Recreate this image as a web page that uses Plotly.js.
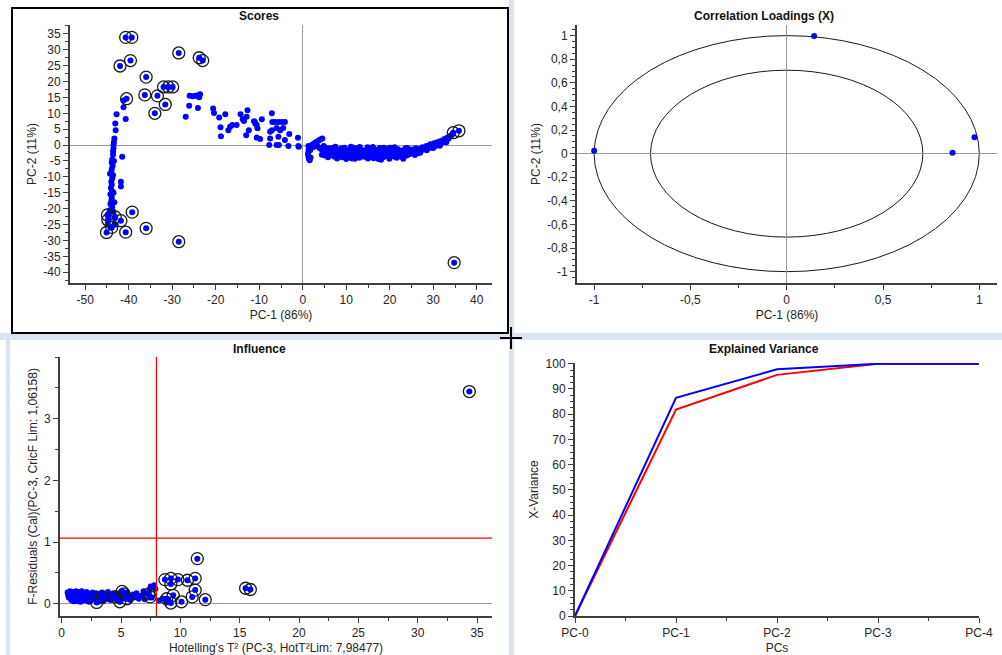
<!DOCTYPE html>
<html><head><meta charset="utf-8">
<script src="https://cdn.plot.ly/plotly-3.0.1.min.js"></script>
<style>html,body{margin:0;padding:0;background:#fff;}#chart{width:1002px;height:655px;}</style>
</head><body><div id="chart"></div>
<script>
// ---------- Scores (PC-1 vs PC-2) ----------
const scoresLeft = [[-41.2,14.0],[-41.2,11.9],[-42.8,9.7],[-40.7,8.2],[-43.1,6.8],[-43.0,4.7],[-43.3,2.1],[-43.4,1.0],[-43.5,0.0],[-43.5,-1.0],[-41.5,-3.7],[-43.6,-2.0],[-43.6,-3.0],[-43.8,-4.5],[-43.4,-5.0],[-43.9,-5.5],[-43.7,-6.5],[-43.9,-7.5],[-44.0,-8.5],[-44.3,-9.0],[-43.6,-9.5],[-43.8,-10.5],[-41.8,-11.5],[-41.8,-13.0],[-44.0,-11.5],[-43.9,-12.5],[-44.1,-13.5],[-43.8,-14.5],[-43.5,-15.0],[-44.2,-15.5],[-43.9,-16.5],[-44.0,-17.5],[-43.3,-18.0],[-44.2,-18.5],[-43.8,-19.5],[-44.3,-20.5],[-43.5,-21.0],[-44.6,-21.5],[-44.6,-22.5],[-43.2,-23.0],[-44.8,-24.5],[-43.0,-25.0],[-44.2,-26.0]];
const scoresMid = [[-26.0,15.5],[-25.3,15.4],[-24.6,15.5],[-24.0,15.7],[-23.6,16.0],[-23.8,15.1],[-26.1,12.4],[-24.1,11.7],[-26.9,8.9],[-20.6,11.5],[-20.4,10.1],[-19.2,8.7],[-17.8,9.7],[-18.9,5.6],[-18.8,2.8],[-17.1,4.7],[-16.7,5.8],[-16.2,6.3],[-15.2,6.3],[-14.3,9.7],[-13.8,8.1],[-12.7,11.0],[-12.9,8.9],[-13.5,7.6],[-12.4,4.7],[-13.0,3.1],[-11.0,7.3],[-10.6,6.3],[-10.4,5.3],[-9.4,8.1],[-10.6,2.4],[-9.8,1.9],[-7.1,10.0],[-7.0,7.3],[-6.4,7.3],[-5.6,7.3],[-4.8,7.3],[-4.1,7.3],[-7.1,4.7],[-7.5,4.2],[-6.0,5.4],[-5.2,4.7],[-4.5,5.4],[-7.5,2.1],[-5.6,2.6],[-4.1,1.6],[-3.1,3.5],[-1.1,2.3],[-7.7,0.0],[-6.0,0.0],[-5.5,0.0],[-3.3,-0.3],[-1.0,-0.3],[-0.9,-0.5],[-10.9,6.8],[-11.2,7.5]];
const scoresBand = [[1.3,-0.3],[1.4,-1.2],[1.3,-2.0],[1.2,-2.8],[1.3,-3.6],[1.4,-4.3],[1.6,-4.8],[1.8,-3.9],[1.7,-1.6],
[2.2,0.2],[2.7,0.6],[3.1,1.0],[3.6,1.4],[4.0,1.8],[4.5,2.1],[2.5,-0.6],[3.3,-0.2],
[4.2,-1.2],[4.6,-2.1],[5.0,-0.6],[5.3,-1.5],[5.6,-2.6],[5.9,-1.0],[6.2,-3.2],[6.4,-2.0],[6.7,-1.1],[7.0,-2.8],[7.2,-3.6],[7.5,-0.5],[7.7,-1.9],[8.0,-2.5],[8.3,-3.4],[8.6,-1.4],[8.8,-2.9],[9.1,-3.8],[9.4,-2.2],[9.6,-0.8],[9.9,-3.1],[10.2,-2.0],[10.5,-3.6],[10.7,-1.3],[11.0,-2.7],[11.3,-4.2],[11.6,-2.1],[11.9,-0.9],[12.1,-3.3],[12.4,-1.8],[12.7,-2.6],[13.0,-4.0],[13.3,-1.2],[13.5,-3.0],[13.8,-2.2],[14.1,-3.7],[14.4,-1.6],[14.6,-2.9],[14.9,-0.7],[15.2,-2.4],[15.5,-3.5],[15.7,-1.9],[16.0,-2.8],[16.3,-4.1],[16.6,-1.4],[16.9,-3.2],[17.1,-2.3],[17.4,-4.4],[17.7,-0.9],[17.9,-3.0],[18.2,-1.8],[18.5,-3.8],[18.8,-2.5],[19.0,-1.1],[19.3,-3.4],[19.6,-2.0],[19.9,-4.3],[20.1,-0.8],[20.4,-2.9],[20.7,-1.6],[21.0,-3.6],[21.3,-2.4],[21.6,-4.0],[21.9,-1.3],[22.1,-3.1],[22.4,-2.2],[22.7,-3.7],[23.0,-1.7],[23.3,-2.8],[23.6,-1.0],[23.9,-3.3],[24.2,-2.0],[24.5,-2.9],[24.8,-1.4],
[4.8,-0.3],[5.8,-3.8],[6.9,-0.9],[7.9,-4.2],[8.9,-1.0],[10.0,-4.4],[11.1,-0.5],[12.0,-4.3],[13.1,-0.6],[14.0,-2.8],[15.0,-4.2],[16.1,-0.6],[17.0,-1.8],[18.0,-4.6],[19.1,-2.9],[20.0,-3.7],[21.1,-0.7],[22.0,-2.6],[23.1,-4.3],[24.0,-0.9],[9.0,-2.5],[11.5,-3.0],[13.6,-2.0],[15.9,-3.7],[18.6,-0.8],[20.9,-2.4],[6.0,-1.7],[3.8,-0.8],[4.4,-3.0],[5.1,-3.3],
[25.1,-2.6],[25.4,-1.4],[25.7,-2.0],[26.0,-1.0],[26.3,-1.8],[26.6,-2.5],[26.9,-1.2],[27.2,-1.7],[27.5,-0.7],[27.8,-1.3],[28.1,-0.9],[28.4,-0.3],[28.7,-1.1],[29.0,-0.2],[29.3,0.3],[29.6,-0.8],[29.9,0.1],[30.2,0.6],[30.5,-0.3],[30.8,0.8],[31.1,0.3],[31.4,1.1],[31.7,0.6],[32.0,1.4],[32.3,1.0],[32.6,1.9],[32.9,1.5],[33.2,2.3],[33.5,2.0],[33.8,2.8],[34.1,3.0],[34.4,3.4],[25.8,-3.1],[27.0,-2.4],[28.5,-1.6],[30.0,-0.9],[31.5,-0.2],[33.0,0.9]];
const scoresMarked = [[-40.7,33.9],[-39.3,33.9],[-28.5,29.0],[-23.8,27.5],[-23.0,26.6],[-42.0,24.9],[-39.6,26.6],[-36.0,21.4],[-32.0,18.3],[-30.9,18.3],[-29.9,18.3],[-36.3,15.8],[-33.4,15.5],[-40.5,14.6],[-31.6,12.8],[-34.0,10.0],[-44.9,-22.0],[-44.8,-23.6],[-43.1,-22.6],[-41.8,-23.8],[-43.9,-25.9],[-45.1,-27.5],[-40.7,-27.4],[-39.2,-21.1],[-36.0,-26.2],[-28.5,-30.4],[34.8,-37.0],[34.6,3.9],[35.9,4.5]];
const scoresXTicks = [-50,-40,-30,-20,-10,0,10,20,30,40];
const scoresXText = ['-50','-40','-30','-20','-10','0','10','20','30','40'];
const scoresYTicks = [-40,-35,-30,-25,-20,-15,-10,-5,0,5,10,15,20,25,30,35];
const scoresYText = ['-40','-35','-30','-25','-20','-15','-10','-5','0','5','10','15','20','25','30','35'];

// ---------- Correlation loadings ----------
const loadX = [-1.0, 0.142, 0.861, 0.975];
const loadY = [0.025, 0.997, 0.008, 0.139];
const loadCircleRadii = [1, 0.7071];
const loadXTicks = [-1,-0.5,0,0.5,1];
const loadXText = ['-1','-0,5','0','0,5','1'];
const loadYTicks = [-1,-0.8,-0.6,-0.4,-0.2,0,0.2,0.4,0.6,0.8,1];
const loadYText = ['-1','-0,8','-0,6','-0,4','-0,2','0','0,2','0,4','0,6','0,8','1'];

// ---------- Influence ----------
const inflX = [0.5,0.6,0.7,0.8,0.8,0.9,1.0,1.0,1.1,1.2,1.2,1.3,1.4,1.4,1.5,1.6,1.7,1.7,1.8,1.9,2.0,2.0,2.1,2.2,2.3,2.4,2.5,2.6,2.7,2.8,2.9,3.0,3.1,3.2,3.3,3.4,3.5,3.6,3.7,3.8,3.9,4.0,4.1,4.2,4.3,4.4,4.6,4.7,4.8,5.0,5.2,5.3,5.5,5.6,5.8,6.0,6.1,6.3,6.5,6.7,6.9,7.0,7.2,7.4,7.5,7.6,7.8,7.9,8.2,8.5,8.8,9.0,1.1,1.5,2.2,0.9,1.3,1.9,2.6,3.3,4.0,0.7,1.6,2.4,0.6,0.8,1.0,1.2,1.4,1.6,1.8,2.1,2.3,2.7,3.1,3.5,0.55,0.75,0.95,1.15,1.35,1.55,1.75,1.95];
const inflY = [0.18,0.15,0.2,0.12,0.17,0.08,0.19,0.14,0.1,0.16,0.2,0.06,0.13,0.18,0.09,0.15,0.2,0.11,0.05,0.17,0.13,0.08,0.19,0.1,0.16,0.04,0.14,0.18,0.07,0.12,0.17,0.09,0.15,0.05,0.13,0.18,0.1,0.16,0.07,0.14,0.19,0.11,0.06,0.15,0.09,0.17,0.12,0.05,0.16,0.1,0.14,0.08,0.18,0.12,0.06,0.15,0.1,0.17,0.08,0.13,0.2,0.07,0.16,0.22,0.28,0.1,0.3,0.24,0.05,0.08,0.04,0.06,0.07,0.06,0.05,0.14,0.11,0.14,0.12,0.13,0.12,0.11,0.09,0.08,0.1,0.06,0.04,0.05,0.04,0.03,0.09,0.05,0.03,0.16,0.03,0.04,0.14,0.19,0.17,0.18,0.16,0.19,0.14,0.15];
const inflMarkedX = [34.35,11.43,15.5,15.9,8.7,9.2,9.8,10.6,11.25,9.2,9.4,11.25,11.0,8.85,9.2,10.1,12.1,7.45,7.35,2.95,3.4,4.5,4.9,5.1,5.25,5.5];
const inflMarkedY = [3.44,0.73,0.25,0.23,0.39,0.41,0.39,0.38,0.41,0.32,0.135,0.22,0.11,0.08,0.01,0.03,0.065,0.11,0.16,0.02,0.11,0.11,0.03,0.2,0.16,0.08];
const hotellingLimit = 7.98477;
const fResidualLimit = 1.06158;
const inflXTicks = [0,5,10,15,20,25,30,35];
const inflXText = ['0','5','10','15','20','25','30','35'];
const inflYTicks = [0,1,2,3];
const inflYText = ['0','1','2','3'];

// ---------- Explained variance ----------
const pcs = ['PC-0','PC-1','PC-2','PC-3','PC-4'];
const pcIndex = [0,1,2,3,4];
const calVariance = [0, 86.5, 97.8, 100, 100];
const valVariance = [0, 81.8, 95.6, 100, 100];
const varYTicks = [0,10,20,30,40,50,60,70,80,90,100];
const varYText = ['0','10','20','30','40','50','60','70','80','90','100'];

// ---------- helpers ----------
const W = 1002, H = 655;
const fx = p => p / W;
const fy = p => 1 - p / H;
const FONT = 'Liberation Sans, Arial, sans-serif';
const BLUE = '#0000ff';
const txt = '#262626';

function ax(extra) {
  return Object.assign({
    showline: true, linecolor: '#404040', linewidth: 2, mirror: false,
    ticks: 'outside', ticklen: 5, tickwidth: 1, tickcolor: '#404040',
    showgrid: false, zeroline: false, tickmode: 'array',
    tickfont: {family: FONT, size: 12, color: txt},
    title: {font: {family: FONT, size: 12, color: txt}}
  }, extra);
}
function minor(d) { return {tickmode: 'linear', tick0: 0, dtick: d, ticklen: 3, tickcolor: '#404040', tickwidth: 1, ticks: 'outside', showgrid: false}; }

const col = (arr, i) => arr.map(p => p[i]);
const scoresAll = scoresLeft.concat(scoresMid, scoresBand);

const traces = [
  {x: col(scoresAll,0), y: col(scoresAll,1), xaxis:'x', yaxis:'y', mode:'markers', type:'scatter',
   marker:{color:BLUE, size:6}, hoverinfo:'skip'},
  {x: col(scoresMarked,0), y: col(scoresMarked,1), xaxis:'x', yaxis:'y', mode:'markers', type:'scatter',
   marker:{symbol:'circle-open', color:'#1a1a1a', size:12, line:{width:1.3}}, hoverinfo:'skip'},
  {x: col(scoresMarked,0), y: col(scoresMarked,1), xaxis:'x', yaxis:'y', mode:'markers', type:'scatter',
   marker:{color:BLUE, size:6}, hoverinfo:'skip'},
  {x: loadX, y: loadY, xaxis:'x2', yaxis:'y2', mode:'markers', type:'scatter',
   marker:{color:BLUE, size:6}, hoverinfo:'skip'},
  {x: inflX, y: inflY, xaxis:'x3', yaxis:'y3', mode:'markers', type:'scatter',
   marker:{color:BLUE, size:6}, hoverinfo:'skip'},
  {x: inflMarkedX, y: inflMarkedY, xaxis:'x3', yaxis:'y3', mode:'markers', type:'scatter',
   marker:{symbol:'circle-open', color:'#1a1a1a', size:12, line:{width:1.3}}, hoverinfo:'skip'},
  {x: inflMarkedX, y: inflMarkedY, xaxis:'x3', yaxis:'y3', mode:'markers', type:'scatter',
   marker:{color:BLUE, size:6}, hoverinfo:'skip'},
  {x: pcIndex, y: valVariance, xaxis:'x4', yaxis:'y4', mode:'lines', type:'scatter',
   line:{color:'#ff0000', width:2}, hoverinfo:'skip'},
  {x: pcIndex, y: calVariance, xaxis:'x4', yaxis:'y4', mode:'lines', type:'scatter',
   line:{color:BLUE, width:2}, hoverinfo:'skip'}
];

const shapes = [
  // background gaps between panels
  {type:'rect', xref:'paper', yref:'paper', x0:fx(509), x1:fx(514), y0:fy(655), y1:fy(0), fillcolor:'#d9e4f0', line:{width:0}, layer:'below'},
  {type:'rect', xref:'paper', yref:'paper', x0:fx(0), x1:fx(1002), y0:fy(340), y1:fy(333), fillcolor:'#d9e4f0', line:{width:0}, layer:'below'},
  {type:'rect', xref:'paper', yref:'paper', x0:fx(6), x1:fx(10), y0:fy(655), y1:fy(340), fillcolor:'#d9e4f0', line:{width:0}, layer:'below'},
  // selected panel frame
  {type:'rect', xref:'paper', yref:'paper', x0:fx(12), x1:fx(508), y0:fy(333), y1:fy(8), line:{color:'#000', width:2}, fillcolor:'rgba(0,0,0,0)'},
  // cursor
  {type:'line', xref:'paper', yref:'paper', x0:fx(500), x1:fx(522), y0:fy(338), y1:fy(338), line:{color:'#000', width:2}},
  {type:'line', xref:'paper', yref:'paper', x0:fx(511), x1:fx(511), y0:fy(327), y1:fy(349), line:{color:'#000', width:2}},
  // influence limits
  {type:'line', xref:'x3', yref:'y3 domain', x0:hotellingLimit, x1:hotellingLimit, y0:0, y1:1, line:{color:'#ff0000', width:1.2}},
  {type:'line', xref:'x3 domain', yref:'y3', x0:0, x1:1, y0:fResidualLimit, y1:fResidualLimit, line:{color:'#ff0000', width:1.2}}
];
loadCircleRadii.forEach(r => shapes.push({type:'circle', xref:'x2', yref:'y2', x0:-r, x1:r, y0:-r, y1:r, line:{color:'#1a1a1a', width:1}, layer:'below'}));

function panelTitle(text, xp, yp) {
  return {text: text, xref:'paper', yref:'paper', x:fx(xp), y:fy(yp), xanchor:'center', yanchor:'middle', showarrow:false,
          font:{family:FONT, size:12, color:'#111', weight:'bold'}};
}

const layout = {
  width: W, height: H, margin:{l:0,r:0,t:0,b:0},
  paper_bgcolor:'#ffffff', plot_bgcolor:'rgba(0,0,0,0)', showlegend:false,
  font:{family:FONT, size:12, color:txt},
  xaxis: ax({domain:[fx(70), fx(492)], anchor:'y', range:[-53.5, 43.5], tickvals:scoresXTicks, ticktext:scoresXText,
    minor:minor(5), zeroline:true, zerolinecolor:'#999', zerolinewidth:1, title:{text:'PC-1 (86%)', font:{family:FONT,size:12,color:txt}, standoff:4}}),
  yaxis: ax({domain:[fy(283), fy(25)], anchor:'x', range:[-43.4, 37.8], tickvals:scoresYTicks, ticktext:scoresYText,
    minor:minor(2.5), zeroline:true, zerolinecolor:'#999', zerolinewidth:1, title:{text:'PC-2 (11%)', font:{family:FONT,size:12,color:txt}, standoff:4}}),
  xaxis2: ax({domain:[fx(577), fx(997)], anchor:'y2', range:[-1.089, 1.092], tickvals:loadXTicks, ticktext:loadXText,
    minor:minor(0.25), zeroline:true, zerolinecolor:'#999', zerolinewidth:1, title:{text:'PC-1 (86%)', font:{family:FONT,size:12,color:txt}, standoff:4}}),
  yaxis2: ax({domain:[fy(283), fy(25)], anchor:'x2', range:[-1.096, 1.09], tickvals:loadYTicks, ticktext:loadYText,
    minor:minor(0.05), zeroline:true, zerolinecolor:'#999', zerolinewidth:1, title:{text:'PC-2 (11%)', font:{family:FONT,size:12,color:txt}, standoff:4}}),
  xaxis3: ax({domain:[fx(60), fx(492)], anchor:'y3', range:[-0.14, 36.26], tickvals:inflXTicks, ticktext:inflXText,
    minor:minor(2.5), title:{text:"Hotelling's T² (PC-3, HotT²Lim: 7,98477)", font:{family:FONT,size:12,color:txt}, standoff:4}}),
  yaxis3: ax({domain:[fy(616), fy(357)], anchor:'x3', range:[-0.2, 4.0], tickvals:inflYTicks, ticktext:inflYText,
    minor:minor(0.5), zeroline:true, zerolinecolor:'#999', zerolinewidth:1, title:{text:'F-Residuals (Cal)(PC-3, CricF Lim: 1,06158)', font:{family:FONT,size:12,color:txt}, standoff:4}}),
  xaxis4: ax({domain:[fx(575), fx(979)], anchor:'y4', range:[0, 4], tickvals:pcIndex, ticktext:pcs,
    minor:minor(0.5), title:{text:'PCs', font:{family:FONT,size:12,color:txt}, standoff:4}}),
  yaxis4: ax({domain:[fy(616), fy(363)], anchor:'x4', range:[0, 100.3], tickvals:varYTicks, ticktext:varYText,
    minor:minor(2.5), title:{text:'X-Variance', font:{family:FONT,size:12,color:txt}, standoff:4}}),
  shapes: shapes,
  annotations: [
    panelTitle('Scores', 259, 16),
    panelTitle('Correlation Loadings (X)', 764, 16),
    panelTitle('Influence', 259, 349),
    panelTitle('Explained Variance', 764, 349)
  ]
};

Plotly.newPlot('chart', traces, layout, {staticPlot:true, displayModeBar:false});
</script>
</body></html>
